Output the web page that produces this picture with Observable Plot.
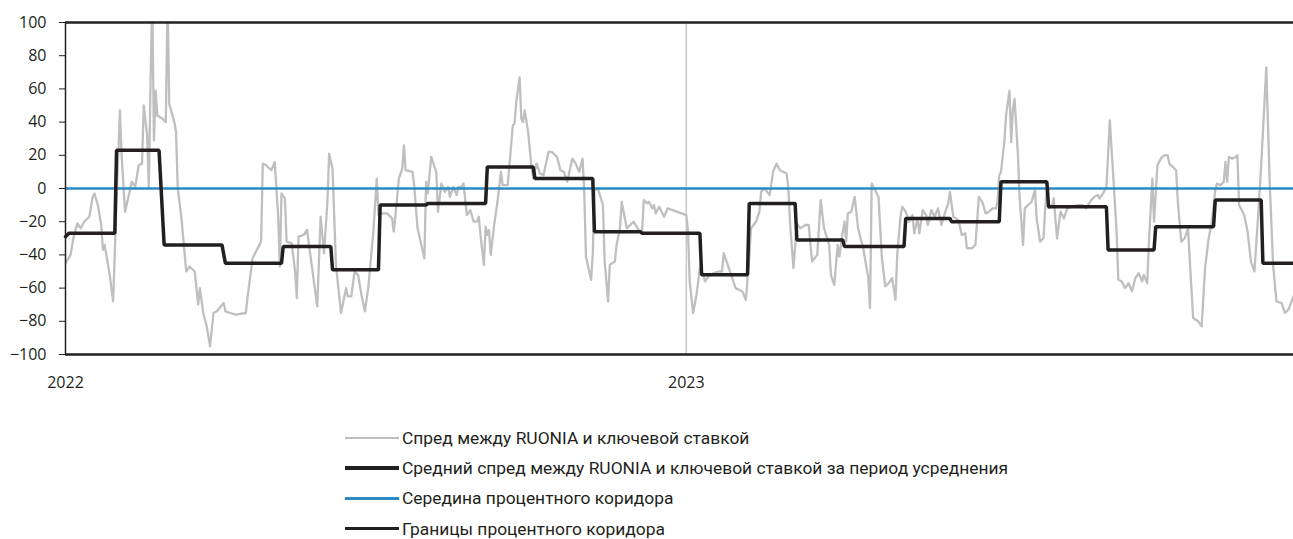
<!DOCTYPE html>
<html><head><meta charset="utf-8">
<script src="https://cdn.jsdelivr.net/npm/d3@7"></script>
<script src="https://cdn.jsdelivr.net/npm/@observablehq/plot@0.6"></script>
<style>
body{margin:0;background:#fff;font-family:"Open Sans",sans-serif;overflow:hidden;}
#chart{position:absolute;left:0;top:0;}
#legend{position:absolute;left:345px;top:423px;font-family:Roboto,sans-serif;font-size:17.4px;line-height:20px;color:#231f20;}
.row{display:flex;align-items:center;height:30.2px;white-space:nowrap;}
.sw{width:54px;margin-right:3px;}
</style></head><body>
<div id="chart"></div>
<div id="legend"></div>
<script>
// Days since 2022-01-01 and spread values (b.p.)
const spreadDays = [0,3,5,7,9,11,14,16,17,19,21,22,23,26,28,30,32,33,35,37,39,41,43,45,46,48,49,50,51,52,53,54,57,59,60,61,64,65,66,68,71,73,76,78,79,81,83,85,87,89,93,94,97,100,106,107,110,115,116,118,121,123,125,126,127,129,130,133,135,136,137,140,142,145,148,150,152,154,155,157,159,162,165,166,168,170,172,174,176,178,181,183,184,186,189,192,193,194,196,198,199,200,204,205,207,211,212,213,215,218,219,221,223,225,226,228,230,231,233,234,236,238,240,242,243,244,246,247,248,249,250,252,254,256,257,260,261,263,264,265,267,268,269,270,272,274,275,277,279,281,284,286,289,291,293,295,298,300,302,304,305,306,309,310,311,313,316,317,319,320,323,324,326,327,330,334,337,339,340,342,343,345,346,347,349,351,352,354,357,365,366,367,369,371,373,375,376,378,381,384,386,387,390,392,394,396,398,400,402,403,406,408,409,411,414,416,418,420,424,425,426,428,430,432,435,437,438,439,442,444,446,449,450,452,454,455,457,458,459,460,462,464,466,469,472,473,474,476,478,480,482,484,486,488,489,491,492,494,496,498,499,501,502,504,506,507,509,511,513,515,517,519,520,522,525,527,529,530,533,535,537,539,541,543,545,547,548,549,550,552,553,555,556,557,558,560,561,563,564,566,568,570,571,573,575,576,577,578,580,581,583,585,587,589,592,595,598,600,603,605,607,608,610,612,614,616,618,619,621,623,625,627,629,631,633,634,636,637,639,640,642,644,646,648,649,651,653,654,656,658,660,661,663,666,668,670,672,674,676,677,679,681,682,683,684,686,688,689,690,693,695,697,699,701,703,706,708,710,712,715,717,719,722];
const spreadValues = [-45,-40,-28,-21,-24,-20,-17,-5,-3,-10,-22,-37,-34,-52,-68,-8,47,20,-14,-5,4,1,14,15,50,32,1,64,115,29,59,44,42,40,115,51,40,34,0,-16,-50,-47,-50,-70,-60,-75,-83,-95,-75,-74,-69,-74,-75,-76,-75,-66,-42,-32,15,14,11,16,-16,-47,-3,-6,-32,-33,-50,-66,-29,-28,-25,-48,-71,-17,-39,-8,21,12,-46,-75,-60,-65,-65,-50,-52,-64,-74,-60,-26,6,-16,-15,-15,-18,-26,-16,6,12,26,11,10,2,-24,-42,4,-3,19,10,-14,3,-2,1,-5,1,-4,1,1,3,-16,-13,-20,-20,-17,-28,-46,-23,-28,-25,-40,-22,-8,10,2,2,14,38,39,52,67,42,40,47,34,13,6,15,9,8,22,22,19,11,10,4,18,15,10,18,-2,-41,-55,-40,-1,0,-10,-44,-68,-46,-44,-34,-24,-8,-24,-20,-25,-26,-7,-9,-8,-12,-10,-15,-11,-15,-17,-12,-13,-16,-26,-56,-75,-64,-48,-52,-56,-53,-51,-50,-50,-39,-48,-54,-60,-61,-62,-67,-42,-24,-20,-14,-2,0,-4,10,15,11,9,0,-21,-48,-21,-24,-22,-22,-34,-44,-40,-7,-24,-34,-52,-58,-34,-41,-26,-20,-32,-15,-14,-5,-24,-36,-54,-72,3,-1,-5,-42,-59,-57,-54,-67,-40,-16,-11,-14,-20,-16,-27,-18,-27,-13,-16,-22,-13,-17,-12,-22,-15,-9,-2,-17,-19,-28,-27,-36,-36,-34,-5,-8,-15,-14,-12,-12,-8,8,10,28,44,59,28,48,54,20,-6,-34,-12,-10,-8,-1,-18,-32,-30,-12,0,-12,-11,-6,-30,-14,-18,-12,-11,-10,-10,-12,-7,-5,-4,-6,-3,1,41,8,-26,-55,-56,-60,-57,-62,-54,-51,-56,-52,-57,-32,6,-20,14,18,20,20,15,13,11,-8,-32,-30,-24,-43,-78,-80,-83,-48,-31,-20,-1,3,2,4,16,4,19,18,19,20,-10,-16,-26,-44,-50,-20,14,73,4,-46,-68,-69,-75,-73,-65];

// Averaging periods: first day, last day, mean spread
const avgStart = [0,2,30,58,94,128,157,185,213,248,276,311,339,374,402,430,458,494,521,550,578,613,641,676,704];
const avgEnd   = [0,29,55,92,127,156,184,212,247,275,310,338,373,401,429,457,493,520,549,577,612,640,675,703,722];
const avgValue = [-29,-27,23,-34,-45,-35,-49,-10,-9,13,6,-26,-27,-52,-9,-31,-35,-18,-20,4,-11,-37,-23,-7,-45];

const corridorMid = [0];
const corridorBounds = [-100, 100];
const yTicks = [-100,-80,-60,-40,-20,0,20,40,60,80,100];
const xTickDays = [0, 365];
const domainDays = [0, 722];
const legendLabels = [
  "Спред между RUONIA и ключевой ставкой",
  "Средний спред между RUONIA и ключевой ставкой за период усреднения",
  "Середина процентного коридора",
  "Границы процентного коридора"
];
const legendColors = ["#bfbfbf","#231f20","#2a8bc4","#231f20"];
const legendWidths = [2,4,2.5,2.5];

const day = d => new Date(Date.UTC(2022,0,1) + d*864e5);
const spread = spreadDays.map((d,i) => ({date: day(d), value: spreadValues[i]}));
const avg = avgStart.flatMap((s,i) => [{date: day(s), value: avgValue[i]}, {date: day(avgEnd[i]), value: avgValue[i]}]);

const ink = "#231f20";
const chart = Plot.plot({
  width: 1293, height: 400,
  marginLeft: 65, marginRight: 0, marginTop: 22, marginBottom: 46,
  style: {fontFamily: "Open Sans", fontSize: "16px", color: ink, background: "#fff"},
  x: {type: "utc", domain: domainDays.map(day)},
  y: {domain: [-100, 100]},
  marks: [
    Plot.ruleX([day(365)], {stroke: "#c8c8c8", strokeWidth: 1.5}),
    Plot.lineY(spread, {x: "date", y: "value", stroke: "#bfbfbf", strokeWidth: 2.3, clip: true}),
    Plot.ruleY(corridorMid, {stroke: "#2a8bc4", strokeWidth: 2.5}),
    Plot.lineY(avg, {x: "date", y: "value", stroke: ink, strokeWidth: 3.5, strokeLinejoin: "miter"}),
    Plot.ruleY(corridorBounds, {stroke: ink, strokeWidth: 2.5}),
    Plot.ruleX([day(0)], {stroke: ink, strokeWidth: 1.5}),
    Plot.axisY({ticks: yTicks, tickSize: 6, tickPadding: 13, fontSize: 16, label: null, stroke: ink}),
    Plot.axisX({ticks: xTickDays.map(day), tickFormat: d3.utcFormat("%Y"), tickSize: 0, tickPadding: 22, fontSize: 16, label: null})
  ]
});
document.getElementById("chart").append(chart);

const leg = document.getElementById("legend");
legendLabels.forEach((t,i) => {
  const r = document.createElement("div"); r.className = "row";
  const s = document.createElement("div"); s.className = "sw";
  s.style.height = legendWidths[i] + "px"; s.style.background = legendColors[i];
  const l = document.createElement("span"); l.textContent = t;
  r.append(s, l); leg.append(r);
});
</script>
</body></html>
